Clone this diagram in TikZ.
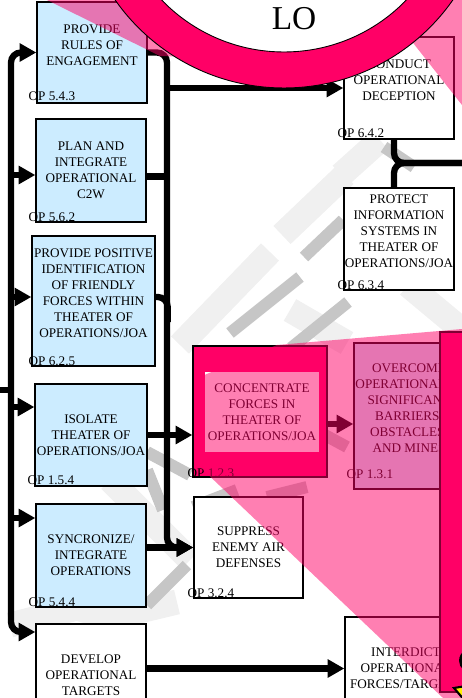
\documentclass[tikz,border=0pt]{standalone}
\usepackage{fontspec}
\setmainfont{Liberation Serif}
\usetikzlibrary{arrows.meta, positioning, shapes}
\definecolor{paleblue}{RGB}{204,236,255}
\definecolor{hotpink}{RGB}{255,0,102}
\definecolor{wmlight}{RGB}{240,240,240}
\definecolor{wmdark}{RGB}{198,198,198}

\begin{document}
\begin{tikzpicture}[x=0.02cm, y=-0.02cm]
\tikzstyle{block} = [rectangle, draw, line width=0.8pt, fill=paleblue, text=black,
    align=center, minimum width=2.2cm, minimum height=2.04cm, inner sep=1pt,
    font=\fontsize{7.5}{9.1}\selectfont]
\tikzstyle{plain} = [block, fill=white]
\tikzstyle{txt} = [align=center, inner sep=0pt, font=\fontsize{7.5}{9.1}\selectfont]
\tikzstyle{op} = [anchor=west, inner sep=0pt, font=\fontsize{7.5}{9.1}\selectfont]
\tikzstyle{wire} = [draw, line width=3.6pt, rounded corners=0.2cm]
\tikzstyle{line} = [wire, -{Triangle[length=9.5pt,width=10pt]}]
\tikzstyle{wash} = [fill=hotpink, fill opacity=0.5]
\tikzstyle{wmwide} = [draw=wmlight, line width=0.5cm]
\tikzstyle{wmthin} = [draw=wmdark, line width=0.24cm]

\useasboundingbox (0,0) rectangle (462,698);
\clip (0,0) rectangle (462,698);

% watermark
\draw[wmwide] (180,345) -- (270,252);
\draw[wmwide] (282,235) -- (345,175);
\draw[wmwide] (341,175) -- (380,140);
\draw[wmwide] (408,285) -- (462,330);
\draw[wmwide] (290,310) -- (347,343);
\draw[wmwide] (110,480) -- (190,560);
\draw[wmwide] (10,625) -- (77,608) -- (110,618) -- (177,602);
\draw[wmthin] (230,333) -- (300,277);
\draw[wmthin] (304,257) -- (343,220);
\draw[wmthin] (291,348) -- (348,302);
\draw[wmthin] (384,147) -- (414,167);
\draw[wmthin] (147,452) -- (190,475);
\draw[wmthin] (147,470) -- (163,510);
\draw[wmthin] (147,605) -- (187,565);
\draw[wmthin] (310,427) -- (347,447);
\draw[wmthin] (193,507) -- (237,490);
\draw[wmthin] (267,497) -- (307,487);

% Place nodes
\node [block, minimum height=2.02cm] (rules) at (92,52.5) {};
\node [txt] (rulestxt) at (92,45) {PROVIDE\\RULES OF\\ENGAGEMENT};
\node [block, minimum height=2.06cm] (plan) at (91,170.5) {PLAN AND\\INTEGRATE\\OPERATIONAL\\C2W};
\node [block, minimum width=2.46cm, minimum height=2.6cm] (identify) at (93.5,301) {};
\node [txt] (identifytxt) at (93.5,293) {PROVIDE POSITIVE\\IDENTIFICATION\\OF FRIENDLY\\FORCES WITHIN\\THEATER OF\\OPERATIONS/JOA};
\node [block] (isolate) at (91,435) {ISOLATE\\THEATER OF\\OPERATIONS/JOA};
\node [block, minimum height=2.06cm] (syncro) at (91,555.5) {SYNCRONIZE/\\INTEGRATE\\OPERATIONS};
\node [plain] (develop) at (91,675) {DEVELOP\\OPERATIONAL\\TARGETS};

\node [plain] (deception) at (399,88) {};
\node [txt] (deceptiontxt) at (399,80) {CONDUCT\\OPERATIONAL\\DECEPTION};
\node [plain] (protect) at (399,239) {};
\node [txt] (protecttxt) at (399,231) {PROTECT\\INFORMATION\\SYSTEMS IN\\THEATER OF\\OPERATIONS/JOA};

\node [block, fill=hotpink, minimum width=2.68cm, minimum height=2.62cm] (concentrate) at (260,411.5) {};
\node [block, draw=none, fill=white, minimum width=2.28cm, minimum height=1.6cm] (concentratetxt) at (262,412) {CONCENTRATE\\FORCES IN\\THEATER OF\\OPERATIONS/JOA};
\node [block, minimum height=2.92cm] (overcome) at (409,416) {};
\node [txt] (overcometxt) at (409,408.5) {OVERCOME\\OPERATIONALLY\\SIGNIFICANT\\BARRIERS,\\OBSTACLES,\\AND MINES};
\node [plain, minimum width=2.18cm, minimum height=2.02cm] (suppress) at (248.5,547.5) {SUPPRESS\\ENEMY AIR\\DEFENSES};
\node [plain, minimum width=2.44cm, minimum height=2.06cm] (interdict) at (406,668.5) {INTERDICT\\OPERATIONAL\\FORCES/TARGETS};
\node [block, fill=hotpink, minimum width=1.2cm, minimum height=7.2cm] (focus) at (470,512) {};

% OP numbers
\node [op] (rulesop) at ([shift={(-8,-7)}]rules.south west) {OP 5.4.3};
\node [op] (planop) at ([shift={(-7,-5)}]plan.south west) {OP 5.6.2};
\node [op] (identifyop) at ([shift={(-3,-5)}]identify.south west) {OP 6.2.5};
\node [op] (isolateop) at ([shift={(-7,-6)}]isolate.south west) {OP 1.5.4};
\node [op] (syncroop) at ([shift={(-7,-5)}]syncro.south west) {OP 5.4.4};
\node [op] (deceptionop) at ([shift={(-6,-6)}]deception.south west) {OP 6.4.2};
\node [op] (protectop) at ([shift={(-6,-5)}]protect.south west) {OP 6.3.4};
\node [op] (concentrateop) at ([shift={(-5,-4)}]concentrate.south west) {OP 1.2.3};
\node [op] (overcomeop) at ([shift={(-7,-15)}]overcome.south west) {OP 1.3.1};
\node [op] (suppressop) at ([shift={(-6,-5)}]suppress.south west) {OP 3.2.4};

% fixed points
\coordinate (spine) at (11,0);
\coordinate (bus) at (167,0);
\coordinate (tap) at (394,0);
\coordinate (feed) at (0,390);
\coordinate (exit) at (462,163);
\coordinate (planin) at ([yshift=-0.09cm]plan.west);
\coordinate (identifyin) at ([yshift=0.08cm]identify.west);
\coordinate (isolatein) at ([yshift=0.56cm]isolate.west);
\coordinate (syncroin) at ([yshift=0.75cm]syncro.west);
\coordinate (developin) at ([yshift=0.86cm]develop.west);
\coordinate (planout) at ([yshift=-0.12cm]plan.east);
\coordinate (identifyout) at ([yshift=0.08cm]identify.east);
\coordinate (concentrateout) at ([yshift=-0.25cm]concentrate.east);

%paths
\draw [wire, {Triangle[length=9.5pt,width=10pt]}-{Triangle[length=9.5pt,width=10pt]}]
    (rules.west) -| (spine |- developin) -- (developin);
\draw [wire] (feed) -- (feed -| spine);
\draw [line] (spine |- planin) -- (planin);
\draw [line] (spine |- identifyin) -- (identifyin);
\draw [line] (spine |- isolatein) -- (isolatein);
\draw [line] (spine |- syncroin) -- (syncroin);

\draw [line] (rules.east) -| (bus |- suppress.west) -- (suppress.west);
\draw [wire] (planout) -- (bus |- planout);
\draw [wire] (identifyout) -| ++(12,25);
\draw [line] (isolate.east) -- (isolate.east -| concentrate.west);
\draw [line] (syncro.east |- suppress.west) -- (suppress.west);
\draw [line] (bus |- deception.west) -- (deception.west);
\draw [wire] (tap |- deception.south) |- (exit);
\draw [wire] (tap |- protect.north) |- (exit);
\draw [line] (concentrateout) -- (concentrateout -| overcome.west);
\draw [line] (develop.east |- interdict.west) -- (interdict.west);

% pink wash
\fill [wash] (47,0) -- (160,56) -- (300,60) -- (395,20) -- (462,105) -- (462,0) -- cycle;
\fill [wash] (277,345) -- (462,329) -- (462,716) -- (199,466) -- (197,378) -- cycle;

% bits at the lower right edge
\draw [line width=2.2pt] (466,652) arc [start angle=120, end angle=230, radius=0.2cm];
\filldraw [fill=yellow, line width=1.2pt] (454,688) -- (466,686) -- (466,702) -- cycle;

% ring
\fill [white] (284,-118) circle [radius=3.4cm];
\draw [hotpink, line width=0.72cm] (284,-118) circle [radius=3.76cm];
\draw [line width=0.5pt] (284,-118) circle [radius=4.12cm] (284,-118) circle [radius=3.4cm];
\node [font=\fontsize{19}{19}\selectfont] (lo) at (294,19) {LO};

\end{tikzpicture}
\end{document}
